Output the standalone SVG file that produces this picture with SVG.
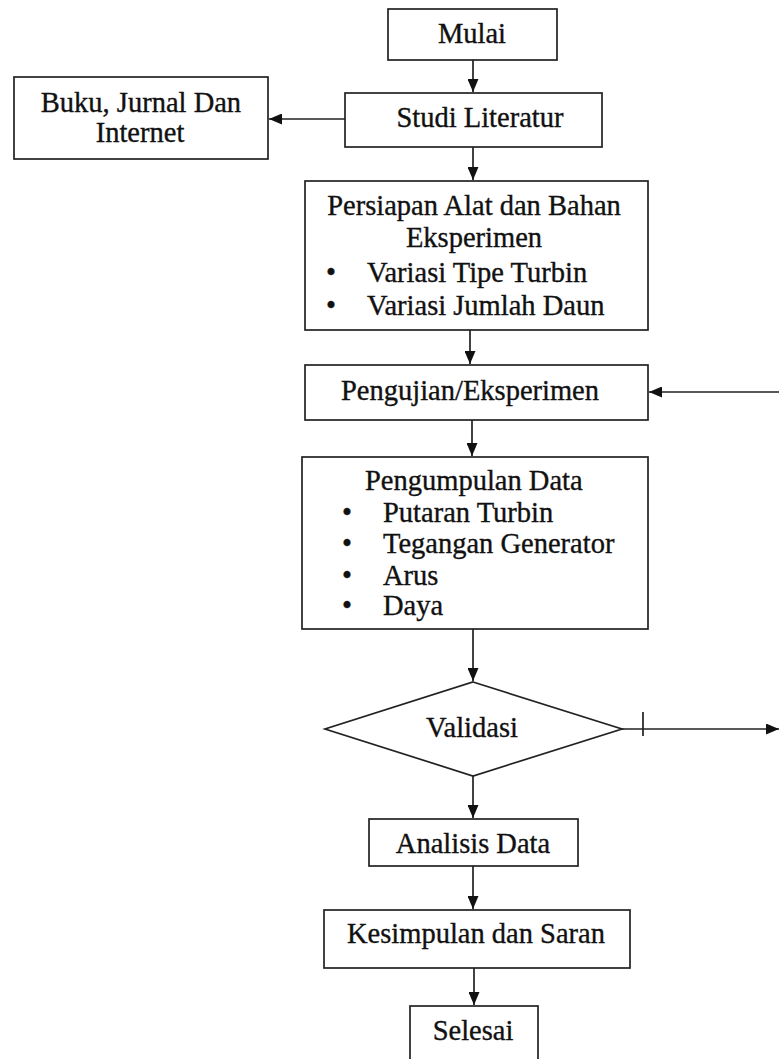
<svg xmlns="http://www.w3.org/2000/svg" width="779" height="1059" viewBox="0 0 779 1059">
<defs>
<style>
.box{fill:#fff;stroke:#222;stroke-width:1.7}
.t{font-family:"Liberation Serif","Times New Roman",serif;font-size:28.5px;fill:#111;stroke:#111;stroke-width:0.35}
.m{text-anchor:middle}
.c{stroke:#222;stroke-width:1.7;fill:none}
</style>
<marker id="ah" viewBox="0 0 13 11" refX="13" refY="5.5" markerWidth="13" markerHeight="11" markerUnits="userSpaceOnUse" orient="auto">
<path d="M0,0 L13,5.5 L0,11 Z" fill="#111"/>
</marker>
</defs>
<rect width="779" height="1059" fill="#fff"/>
<g id="connectors">
<line class="c" x1="473" y1="60" x2="473" y2="92" marker-end="url(#ah)"/>
<line class="c" x1="345" y1="119" x2="269" y2="119" marker-end="url(#ah)"/>
<line class="c" x1="473" y1="147" x2="473" y2="180" marker-end="url(#ah)"/>
<line class="c" x1="470" y1="330" x2="470" y2="364" marker-end="url(#ah)"/>
<line class="c" x1="779" y1="392" x2="649" y2="392" marker-end="url(#ah)"/>
<line class="c" x1="472" y1="420" x2="472" y2="456" marker-end="url(#ah)"/>
<line class="c" x1="473" y1="629" x2="473" y2="681" marker-end="url(#ah)"/>
<line class="c" x1="622" y1="729" x2="779" y2="729" marker-end="url(#ah)"/>
<line class="c" x1="643" y1="712" x2="643" y2="736"/>
<line class="c" x1="473" y1="776" x2="473" y2="818" marker-end="url(#ah)"/>
<line class="c" x1="473" y1="866" x2="473" y2="909" marker-end="url(#ah)"/>
<line class="c" x1="474" y1="968" x2="474" y2="1005" marker-end="url(#ah)"/>
</g>
<g id="mulai">
<rect class="box" x="388" y="9" width="169" height="51"/>
<text class="t m" x="472" y="43">Mulai</text>
</g>
<g id="studi">
<rect class="box" x="345" y="93" width="257" height="54"/>
<text class="t m" x="480" y="127">Studi Literatur</text>
</g>
<g id="buku">
<rect class="box" x="14" y="77" width="254" height="82"/>
<text class="t m" x="141" y="112">Buku, Jurnal Dan</text>
<text class="t m" x="140" y="142">Internet</text>
</g>
<g id="persiapan">
<rect class="box" x="305" y="181" width="343" height="149"/>
<text class="t m" x="474" y="215">Persiapan Alat dan Bahan</text>
<text class="t m" x="474" y="247">Eksperimen</text>
<text class="t m" x="331" y="282">•</text>
<text class="t" x="367" y="282">Variasi Tipe Turbin</text>
<text class="t m" x="331" y="315">•</text>
<text class="t" x="367" y="315">Variasi Jumlah Daun</text>
</g>
<g id="pengujian">
<rect class="box" x="305" y="365" width="343" height="55"/>
<text class="t m" x="470" y="400">Pengujian/Eksperimen</text>
</g>
<g id="pengumpulan">
<rect class="box" x="302" y="457" width="346" height="172"/>
<text class="t" x="365" y="490">Pengumpulan Data</text>
<text class="t m" x="347" y="522">•</text>
<text class="t" x="383" y="522">Putaran Turbin</text>
<text class="t m" x="347" y="553">•</text>
<text class="t" x="383" y="553">Tegangan Generator</text>
<text class="t m" x="347" y="585">•</text>
<text class="t" x="383" y="585">Arus</text>
<text class="t m" x="347" y="615">•</text>
<text class="t" x="383" y="615">Daya</text>
</g>
<g id="validasi">
<polygon class="box" points="473,682 622,729 473,776 325,729"/>
<text class="t m" x="472" y="737">Validasi</text>
</g>
<g id="analisis">
<rect class="box" x="369" y="819" width="209" height="47"/>
<text class="t m" x="473" y="853">Analisis Data</text>
</g>
<g id="kesimpulan">
<rect class="box" x="324" y="910" width="306" height="58"/>
<text class="t m" x="476" y="943">Kesimpulan dan Saran</text>
</g>
<g id="selesai">
<rect class="box" x="410" y="1006" width="128" height="60"/>
<text class="t m" x="473" y="1040">Selesai</text>
</g>
</svg>
